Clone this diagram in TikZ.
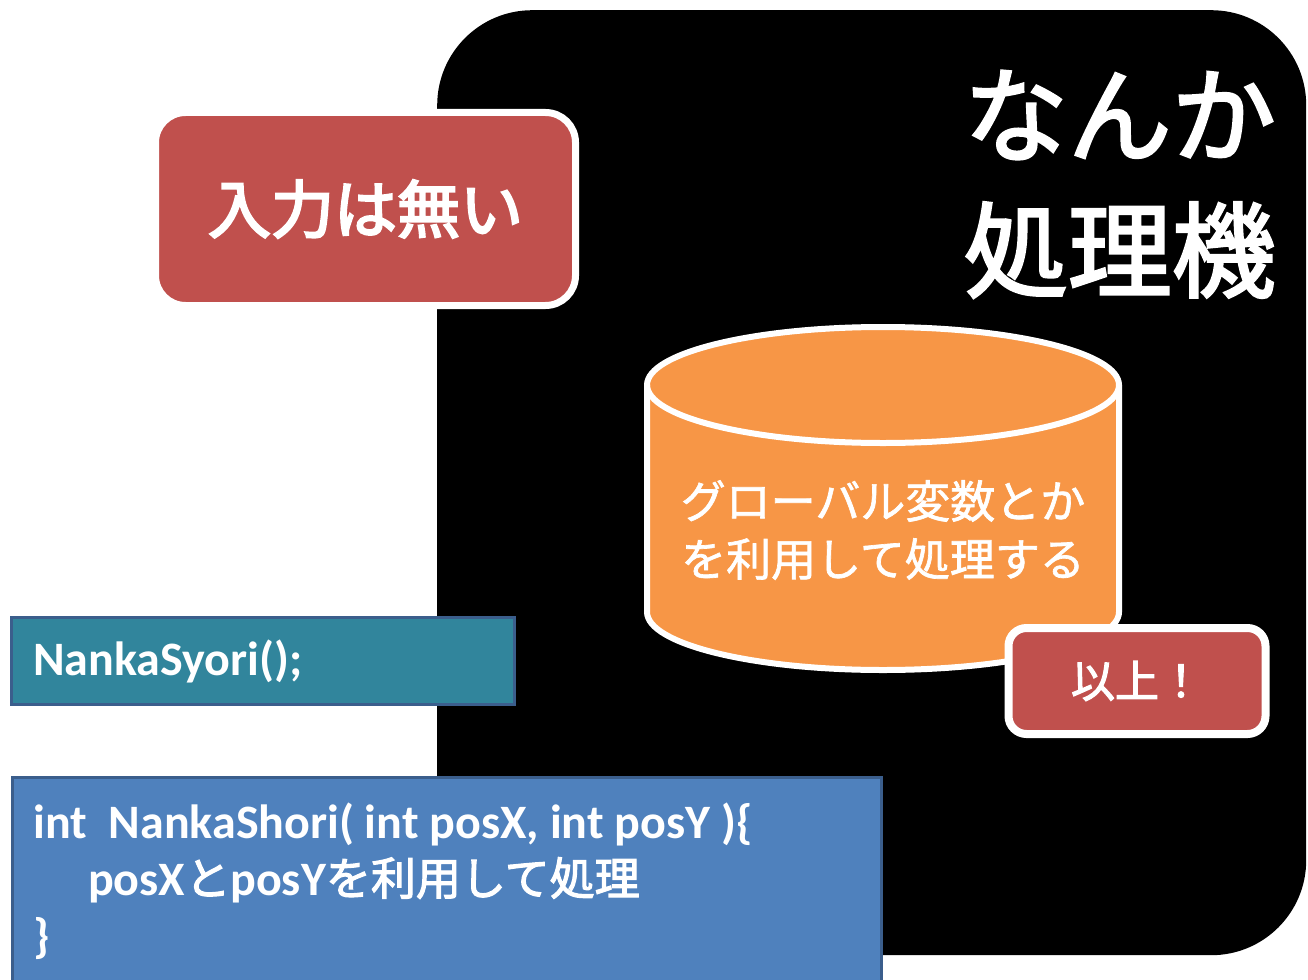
\documentclass[tikz,border=0pt]{standalone}
\usepackage{fontspec}
\setmainfont{Carlito}
\newfontfamily\jpm[FakeBold=1.5]{Noto Sans CJK JP}
\newfontfamily\jpc[FakeBold=2.5]{Noto Sans CJK JP}
\newfontfamily\jpt[FakeBold=2.5]{Noto Sans CJK JP}
\newfontfamily\jpb[FakeBold=3.5]{Noto Sans CJK JP}
\definecolor{pred}{HTML}{C0504D}
\definecolor{porange}{HTML}{F79646}
\definecolor{pteal}{HTML}{31859C}
\definecolor{pblue}{HTML}{4F81BD}
\definecolor{pborder}{HTML}{3B5E8C}
\tikzset{
  redbox/.style={draw=white, fill=pred, text=white, inner sep=0pt},
  codebox/.style={draw=pborder, fill=#1, line width=3pt, inner sep=0pt},
  codetext/.style={anchor=base west, text=white, inner sep=0pt, font=\bfseries\fontsize{48}{48}\selectfont},
  bigjp/.style={anchor=east, text=white, inner sep=0pt, font=\jpt\fontsize{104}{104}\selectfont}
}
\begin{document}
\begin{tikzpicture}[x=1pt,y=-1pt]
\useasboundingbox (0,0) rectangle (1308,979);
\fill[white] (0,0) rectangle (1308,979);
% black machine
\node[fill=black, rounded corners=95pt, minimum width=869pt, minimum height=945pt, inner sep=0pt, anchor=north west] (machine) at (437,10) {};
\node[bigjp] (title1) at (1276,115) {なんか};
\node[bigjp] (title2) at (1276,250) {処理機};
% input box
\node[redbox, line width=7pt, rounded corners=30pt, minimum width=420pt, minimum height=193pt,
      font=\jpb\fontsize{63}{63}\selectfont] (noinput) at (365.5,209) {入力は無い};
% cylinder
\path[fill=porange, draw=white, line width=6pt]
  (647,385) -- (647,612) arc[start angle=180, end angle=0, x radius=236, y radius=58]
  -- (1119,385) arc[start angle=0, end angle=-180, x radius=236, y radius=58] -- cycle;
\draw[white, line width=6pt] (647,385) arc[start angle=180, end angle=0, x radius=236, y radius=58];
\node[text=white, align=center, inner sep=0pt, font=\jpm\fontsize{45}{58}\selectfont] (db) at (883,530)
  {グローバル変数とか\\を利用して処理する};
% end box
\node[redbox, line width=8pt, rounded corners=18pt, minimum width=257pt, minimum height=106pt,
      font=\jpt\fontsize{44}{44}\selectfont] (fin) at (1137,681) {以上！};
% call box
\node[codebox=pteal, minimum width=503pt, minimum height=87pt] (call) at (262.5,660.5) {};
\node[codetext] (calltext) at (33,675) {NankaSyori();};
% function box
\node[codebox=pblue, minimum width=869pt, minimum height=240pt, anchor=north west] (func) at (11,776) {};
\node[codetext] (line1) at (33,838) {int\ \ NankaShori( int posX, int posY )\{};
\node[codetext] (line2) at (88,895) {posX{\jpc\mdseries\fontsize{45}{45}\selectfont と}posY{\jpc\mdseries\fontsize{45}{45}\selectfont を利用して処理}};
\node[codetext] (line3) at (33,952) {\}};
\end{tikzpicture}
\end{document}
